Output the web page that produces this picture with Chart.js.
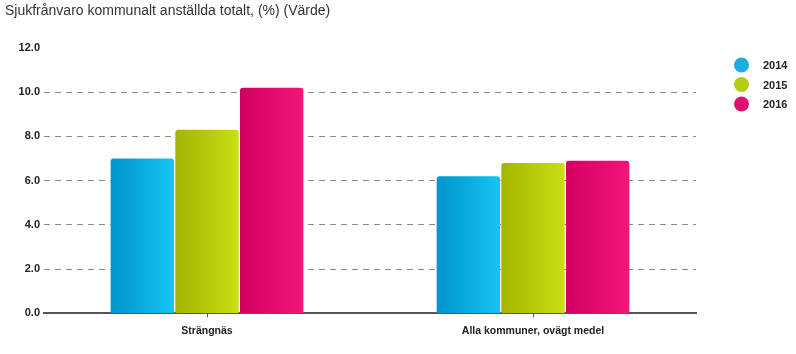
<!DOCTYPE html>
<html>
<head>
<meta charset="utf-8">
<script src="https://cdn.jsdelivr.net/npm/chart.js@4"></script>
<style>
  html, body { margin: 0; padding: 0; background: #fff; }
  #wrap { width: 796px; height: 354px; position: relative; }
</style>
</head>
<body>
<div id="wrap"><canvas id="sjukChart"></canvas></div>
<script>
var categories = ['Strängnäs', 'Alla kommuner, ovägt medel'];
var years = ['2014', '2015', '2016'];
var values2014 = [7.0, 6.2];
var values2015 = [8.3, 6.8];
var values2016 = [10.2, 6.9];
var yTicks = [0, 2, 4, 6, 8, 10, 12];

// left/right gradient stops, legend dot colour
var palette = [
    { dark: '#0094cc', light: '#16c4f2', dot: '#1aaee0' },
    { dark: '#a2b400', light: '#cadf14', dot: '#b6cc10' },
    { dark: '#d0005e', light: '#f4167a', dot: '#e2106c' }
];

var CAT_PCT = 0.595;
var BAR_PCT = 0.98;

function barGradient(context) {
    var chart = context.chart;
    var xScale = chart.scales.x;
    var colors = palette[context.datasetIndex];
    if (!chart.chartArea || !xScale) {
        return colors.light;
    }
    var catWidth = xScale.width / categories.length;
    var groupWidth = catWidth * CAT_PCT;
    var barWidth = groupWidth / years.length;
    var center = xScale.getPixelForValue(context.dataIndex);
    var left = center - groupWidth / 2 + context.datasetIndex * barWidth;
    var grad = chart.ctx.createLinearGradient(left, 0, left + barWidth, 0);
    grad.addColorStop(0, colors.dark);
    grad.addColorStop(1, colors.light);
    return grad;
}

// legend is drawn by hand so it sits where the original puts it
var dotLegend = {
    id: 'dotLegend',
    afterDraw: function(chart) {
        var ctx = chart.ctx;
        ctx.save();
        chart.data.datasets.forEach(function(ds, i) {
            var y = 65 + i * 19.5;
            ctx.beginPath();
            ctx.arc(741.5, y, 7.5, 0, Math.PI * 2);
            ctx.fillStyle = palette[i].dot;
            ctx.fill();
            ctx.fillStyle = '#222';
            ctx.font = 'bold 11px "Liberation Sans", Arial, sans-serif';
            ctx.textBaseline = 'middle';
            ctx.fillText(ds.label, 763, y + 1);
        });
        ctx.restore();
    }
};

var datasets = [values2014, values2015, values2016].map(function(vals, i) {
    return {
        label: years[i],
        data: vals,
        backgroundColor: barGradient,
        borderWidth: 0,
        borderRadius: { topLeft: 3, topRight: 3, bottomLeft: 0, bottomRight: 0 },
        borderSkipped: 'bottom',
        categoryPercentage: CAT_PCT,
        barPercentage: BAR_PCT
    };
});

var ctx = document.getElementById('sjukChart').getContext('2d');
new Chart(ctx, {
    type: 'bar',
    data: {
        labels: categories,
        datasets: datasets
    },
    options: {
        responsive: true,
        maintainAspectRatio: false,
        animation: false,
        layout: {
            padding: { left: 5, right: 100, top: 0, bottom: 10 }
        },
        plugins: {
            legend: { display: false },
            tooltip: { enabled: false },
            title: {
                display: true,
                text: 'Sjukfrånvaro kommunalt anställda totalt, (%) (Värde)',
                align: 'start',
                color: '#333',
                font: { family: '"Liberation Sans", Arial, sans-serif', size: 14, weight: 'normal' },
                padding: { top: 3, bottom: 28 }
            }
        },
        scales: {
            x: {
                grid: {
                    display: true,
                    drawOnChartArea: false,
                    drawTicks: true,
                    tickLength: 4,
                    offset: false,
                    color: '#555'
                },
                border: { display: true, color: '#555', width: 2 },
                ticks: {
                    color: '#222',
                    padding: 7,
                    font: { family: '"Liberation Sans", Arial, sans-serif', size: 10.5, weight: 'bold' }
                }
            },
            y: {
                min: 0,
                max: 12,
                afterBuildTicks: function(scale) {
                    scale.ticks = yTicks.map(function(v) { return { value: v }; });
                },
                afterFit: function(scale) {
                    scale.width = 39;
                },
                grid: {
                    drawTicks: false,
                    color: function(c) {
                        return (c.tick && (c.tick.value === 12 || c.tick.value === 0)) ? 'rgba(0,0,0,0)' : '#8a8a8a';
                    },
                    lineWidth: 1
                },
                border: { display: false, dash: [6, 5] },
                ticks: {
                    color: '#222',
                    padding: 4,
                    font: { family: '"Liberation Sans", Arial, sans-serif', size: 11, weight: 'bold' },
                    callback: function(v) { return Number(v).toFixed(1); }
                }
            }
        }
    },
    plugins: [dotLegend]
});
</script>
</body>
</html>
